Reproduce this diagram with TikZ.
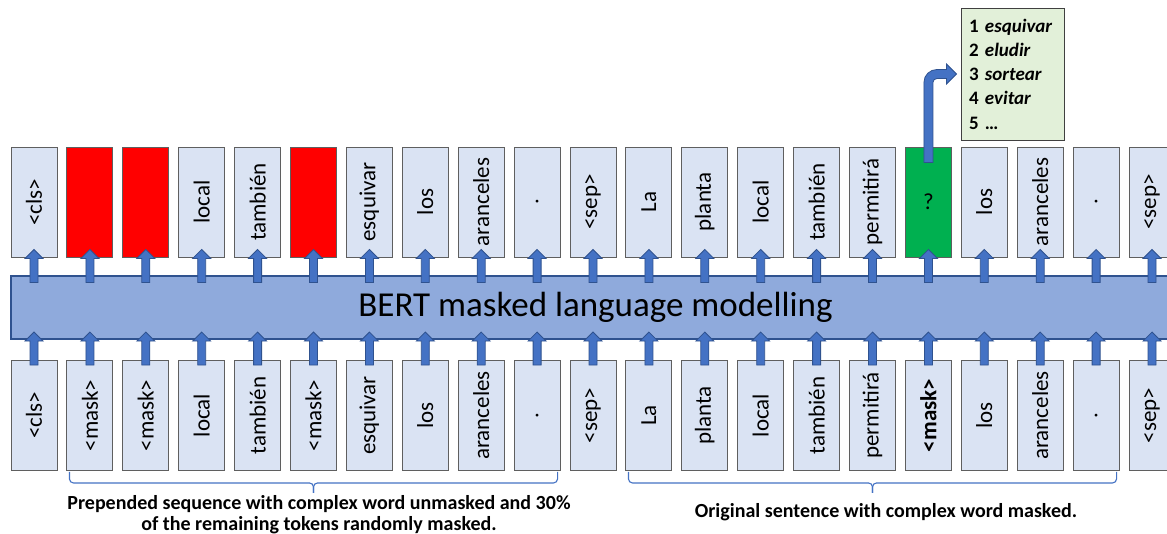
\documentclass[tikz,border=0pt]{standalone}
\usepackage{fontspec}
\setmainfont{Carlito}
\usepackage{graphicx}
\usetikzlibrary{calc}

\definecolor{boxfill}{HTML}{DAE3F3}
\definecolor{boxline}{HTML}{5F5F5F}
\definecolor{barfill}{HTML}{8FAADC}
\definecolor{barline}{HTML}{2F528F}
\definecolor{arrfill}{HTML}{4472C4}
\definecolor{arrline}{HTML}{2F528F}
\definecolor{maskred}{HTML}{FF0000}
\definecolor{pickgreen}{HTML}{00B050}
\definecolor{listfill}{HTML}{E2F0D9}
\definecolor{listline}{HTML}{404040}

% vertical token text, read from bottom to top
\newcommand\vt[1]{\rotatebox{90}{#1}}

\begin{document}
\begin{tikzpicture}[x=1pt,y=-1pt,
  tokbox/.style={draw=boxline, line width=0.9pt, fill=boxfill,
    minimum width=46pt, minimum height=110pt, inner sep=0pt,
    font=\fontsize{23}{27}\selectfont},
  plain/.style={},
  masked/.style={fill=maskred},
  picked/.style={fill=pickgreen},
  model/.style={draw=barline, line width=1.2pt, fill=barfill,
    minimum width=1169pt, minimum height=63pt, inner sep=0pt,
    font=\fontsize{35}{40}\selectfont},
  blockarrow/.style={fill=arrfill, draw=arrline, line width=0.8pt, line join=miter},
  uparrow/.pic={\path[blockarrow] (-4,0) -- (-4,-24) -- (-9,-24) -- (0,-33)
      -- (9,-24) -- (4,-24) -- (4,0) -- cycle;},
  candlist/.style={draw=listline, line width=0.9pt, fill=listfill,
    text width=87pt, inner xsep=8pt, inner ysep=0pt,
    minimum height=132pt, align=left,
    font=\fontsize{19}{24.2}\selectfont\bfseries},
  brace/.style={draw=arrfill, line width=1.1pt, rounded corners=4pt},
  caption/.style={align=center, inner sep=0pt,
    font=\fontsize{20}{21}\selectfont\bfseries}
]
\useasboundingbox (0,0) rectangle (1167,533);
\fill[white] (0,0) rectangle (1167,533);
\clip (0,0) rectangle (1167,533);

% output tokens
\foreach \s/\w [count=\n from 0] in {
  plain/{\vt{<cls>}}, masked/{}, masked/{}, plain/{\vt{local}},
  plain/{\vt{también}}, masked/{}, plain/{\vt{esquivar}}, plain/{\vt{los}},
  plain/{\vt{aranceles}}, plain/{\vt{.}}, plain/{\vt{<sep>}}, plain/{\vt{La}},
  plain/{\vt{planta}}, plain/{\vt{local}}, plain/{\vt{también}},
  plain/{\vt{permitirá}}, picked/{?}, plain/{\vt{los}}, plain/{\vt{aranceles}},
  plain/{\vt{.}}, plain/{\vt{<sep>}}}
  {\node[tokbox,\s] (t\n) at ({34+55.9*\n},202) {\w};}

% input tokens
\foreach \w [count=\n from 0] in {
  <cls>, <mask>, <mask>, local, también, <mask>, esquivar, los, aranceles, .,
  <sep>, La, planta, local, también, permitirá, \textbf{<mask>}, los,
  aranceles, ., <sep>}
  {\node[tokbox] (b\n) at ({34+55.9*\n},415.5) {\vt{\w}};}

% the model
\node[model] (bar) at (595.5,307.5) {BERT masked language modelling};

% flow through the model
\foreach \n in {0,...,20} {
  \pic at ($(b\n.north)+(0,5)$) {uparrow};
  \pic at ($(t\n.south)+(0,25)$) {uparrow};
}

% ranked candidates for the masked position
\node[candlist] (cand) at (1012.5,74)
  {1 \textit{esquivar}\\2 \textit{eludir}\\3 \textit{sortear}\\4 \textit{evitar}\\5 …};

\coordinate (k) at (t16.north |- cand.west);
\path[blockarrow]
  ($(t16.north)+(-4.5,16)$) -- ($(k)+(-4.5,8.5)$)
  .. controls ($(k)+(-4.5,1.3)$) and ($(k)+(1.3,-4.5)$) .. ($(k)+(8.5,-4.5)$)
  -- ($(cand.west)+(-14,-4.5)$) -- ($(cand.west)+(-14,-10)$)
  -- ($(cand.west)+(-4,0)$)
  -- ($(cand.west)+(-14,10)$) -- ($(cand.west)+(-14,4.5)$)
  -- ($(k)+(8.5,4.5)$)
  .. controls ($(k)+(6.3,4.5)$) and ($(k)+(4.5,6.3)$) .. ($(k)+(4.5,8.5)$)
  -- ($(t16.north)+(4.5,16)$) -- cycle;

% braces under the two segments
\coordinate (mL) at ($(b1.south west)!0.5!(b9.south east)$);
\coordinate (mR) at ($(b11.south west)!0.5!(b19.south east)$);
\draw[brace] ($(b1.south west)+(3,1)$) -- ($(b1.south west)+(3,12)$)
  -- ($(mL)+(0,12)$) -- ($(mL)+(0,22)$);
\draw[brace] ($(b9.south east)+(-3,1)$) -- ($(b9.south east)+(-3,12)$)
  -- ($(mL)+(0,12)$) -- ($(mL)+(0,22)$);
\draw[brace] ($(b11.south west)+(3,1)$) -- ($(b11.south west)+(3,12)$)
  -- ($(mR)+(0,12)$) -- ($(mR)+(0,22)$);
\draw[brace] ($(b19.south east)+(-3,1)$) -- ($(b19.south east)+(-3,12)$)
  -- ($(mR)+(0,12)$) -- ($(mR)+(0,22)$);

% captions; the base anchor of the two-line caption sits on its last line
\node[caption, anchor=base] (capL) at (319,530)
  {Prepended sequence with complex word unmasked and 30\%\\
   of the remaining tokens randomly masked.};
\node[caption, anchor=base] (capR) at (886,517)
  {Original sentence with complex word masked.};
\end{tikzpicture}
\end{document}
